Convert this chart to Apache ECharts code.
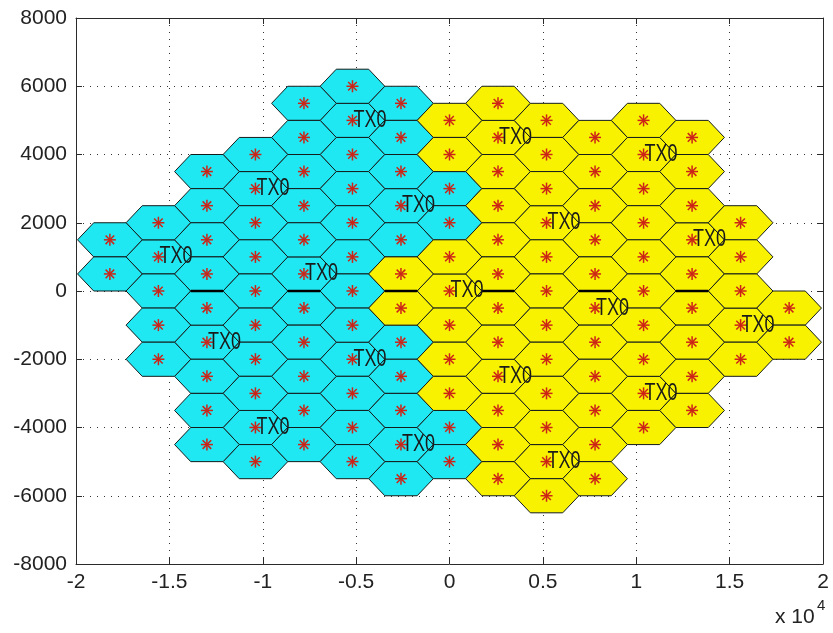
<!DOCTYPE html>
<html>
<head>
<meta charset="utf-8">
<title>Hexagonal cell layout</title>
<script src="https://cdn.jsdelivr.net/npm/echarts@6/dist/echarts.min.js"></script>
<style>
  html, body { margin: 0; padding: 0; background: #ffffff; }
  #chart { width: 833px; height: 633px; }
</style>
</head>
<body>
<div id="chart"></div>
<script>
// Transmitter sites (cluster centres), split by colour group
const sitesCyan = [
  [-5196, 5000], [-10392, 3000], [-2598, 2500], [-15588, 1000], [-7794, 500],
  [-12990, -1500], [-5196, -2000], [-10392, -4000], [-2598, -4500]
];
const sitesYellow = [
  [2598, 4500], [10392, 4000], [5196, 2000], [12990, 1500], [0, 0],
  [7794, -500], [15588, -1000], [2598, -2500], [10392, -3000], [5196, -5000]
];
// Seven cells per cluster: the site cell and its six neighbours
const cellOffsets = [
  [0, 0], [0, 1000], [0, -1000], [2598, 500], [2598, -500], [-2598, 500], [-2598, -500]
];
// Hexagon outline relative to the cell centre
const hexVertexOffsets = [
  [1732, 0], [866, 500], [-866, 500], [-1732, 0], [-866, -500], [866, -500]
];
// Columns whose cell edges on y = 0 are drawn heavier
const seamColumns = [-12990, -7794, -2598, 2598, 7794, 12990];
const siteLabel = 'TX0';

const cells = [];
[sitesCyan, sitesYellow].forEach(function (group, g) {
  group.forEach(function (s) {
    cellOffsets.forEach(function (o) {
      cells.push([s[0] + o[0], s[1] + o[1], g]);
    });
  });
});
const sites = sitesCyan.concat(sitesYellow);

const FILLS = ['#1fe8f2', '#f8f200'];
const TICK_FONT = "'Liberation Sans', Arial, sans-serif";

const chart = echarts.init(document.getElementById('chart'), null, { renderer: 'canvas' });

function axisBase(extra) {
  return Object.assign({
    type: 'value',
    axisLine: { show: true, onZero: false, lineStyle: { color: '#2a2a2a', width: 1 } },
    axisTick: { show: true, inside: true, length: 6, lineStyle: { color: '#2a2a2a' } }
  }, extra);
}

chart.setOption({
  backgroundColor: '#ffffff',
  animation: false,
  grid: { left: 76, right: 10, top: 18, bottom: 69, containLabel: false },
  xAxis: [
    axisBase({
      position: 'bottom', min: -20000, max: 20000, interval: 5000,
      axisLabel: {
        margin: 8, fontSize: 21, color: '#222', fontFamily: TICK_FONT,
        formatter: function (v) { return String(v / 10000); }
      },
      splitLine: { show: true, lineStyle: { color: '#333', width: 1, type: [1, 6] } }
    }),
    axisBase({
      position: 'top', min: -20000, max: 20000, interval: 5000,
      axisLabel: { show: false }, splitLine: { show: false }
    })
  ],
  yAxis: [
    axisBase({
      position: 'left', min: -8000, max: 8000, interval: 2000,
      axisLabel: {
        margin: 9, fontSize: 21, color: '#222', fontFamily: TICK_FONT,
        formatter: function (v) { return String(v); }
      },
      splitLine: { show: true, lineStyle: { color: '#333', width: 1, type: [1, 6] } }
    }),
    axisBase({
      position: 'right', min: -8000, max: 8000, interval: 2000,
      axisLabel: { show: false }, splitLine: { show: false }
    })
  ],
  graphic: [
    { type: 'text', left: 775, top: 607, style: { text: 'x 10', font: "21px 'Liberation Sans', Arial, sans-serif", fill: '#222' } },
    { type: 'text', left: 817, top: 598, style: { text: '4', font: "15px 'Liberation Sans', Arial, sans-serif", fill: '#222' } }
  ],
  series: [
    {
      name: 'cells', type: 'custom', coordinateSystem: 'cartesian2d',
      xAxisIndex: 0, yAxisIndex: 0, z: 2, clip: false,
      data: cells,
      renderItem: function (params, api) {
        const cx = api.value(0), cy = api.value(1);
        const pts = hexVertexOffsets.map(function (d) { return api.coord([cx + d[0], cy + d[1]]); });
        return {
          type: 'polygon',
          shape: { points: pts },
          style: { fill: FILLS[api.value(2)], stroke: '#141c1c', lineWidth: 1 }
        };
      }
    },
    {
      name: 'seam', type: 'custom', coordinateSystem: 'cartesian2d', z: 3,
      data: seamColumns.map(function (c) { return [c, 0]; }),
      renderItem: function (params, api) {
        const c = api.value(0), y = api.value(1);
        const a = api.coord([c - 866, y]), b = api.coord([c + 866, y]);
        return {
          type: 'line',
          shape: { x1: a[0], y1: a[1], x2: b[0], y2: b[1] },
          style: { stroke: '#000', lineWidth: 2.6 }
        };
      }
    },
    {
      name: 'centres', type: 'custom', coordinateSystem: 'cartesian2d', z: 4,
      data: cells,
      renderItem: function (params, api) {
        const p = api.coord([api.value(0), api.value(1)]);
        const r = 6, d = 4.3;
        const segs = [[-r, 0, r, 0], [0, -r, 0, r], [-d, -d, d, d], [-d, d, d, -d]];
        return {
          type: 'group',
          children: segs.map(function (s) {
            return {
              type: 'line',
              shape: { x1: p[0] + s[0], y1: p[1] + s[1], x2: p[0] + s[2], y2: p[1] + s[3] },
              style: { stroke: '#cc2418', lineWidth: 1.5 }
            };
          })
        };
      }
    },
    {
      name: 'sites', type: 'custom', coordinateSystem: 'cartesian2d', z: 5,
      data: sites,
      renderItem: function (params, api) {
        const p = api.coord([api.value(0), api.value(1)]);
        return {
          type: 'text',
          x: p[0] + 1, y: p[1],
          scaleX: 1, scaleY: 1.3,
          style: {
            text: siteLabel,
            font: "18px 'Liberation Sans', Arial, sans-serif",
            fill: '#1a1a1a',
            align: 'left', verticalAlign: 'middle',
            textAlign: 'left', textVerticalAlign: 'middle'
          }
        };
      }
    }
  ]
});
</script>
</body>
</html>
